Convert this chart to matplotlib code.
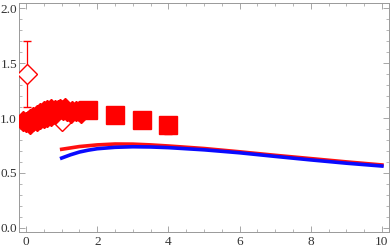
import numpy as np
import matplotlib
matplotlib.use('Agg')
import matplotlib.pyplot as plt
from matplotlib.ticker import MultipleLocator

plt.rcParams['font.family'] = ['Liberation Serif', 'DejaVu Serif']

# filled diamonds (dense cluster)
dia_x = [-0.08, 0.0, 0.05, 0.1, 0.12, 0.2, 0.2, 0.3, 0.3, 0.4, 0.4, 0.5, 0.5,
         0.6, 0.6, 0.7, 0.7, 0.8, 0.8, 0.9, 0.95, 1.05, 1.1, 1.15, 1.25, 1.3,
         1.4, 1.5, 1.55]
dia_y = [0.97, 0.96, 0.97, 0.95, 0.99, 0.97, 1.01, 0.97, 1.03, 0.99, 1.05, 1.0, 1.06,
         1.01, 1.07, 1.02, 1.08, 1.04, 1.07, 1.07, 1.08, 1.07, 1.09, 1.06, 1.05, 1.06,
         1.06, 1.06, 1.05]

# large squares with error bars
sq_x = [1.75, 2.5, 3.25, 4.0]
sq_y = [1.07, 1.03, 0.98, 0.94]
sq_lo = [0.04, 0.05, 0.06, 0.085]
sq_hi = [0.04, 0.05, 0.06, 0.06]

# open diamonds
od_x = [0.03, 1.0]
od_y = [1.40, 0.97]
od_lo = [0.30, 0.03]
od_hi = [0.30, 0.03]

# curves
red_x = [1.0, 1.5, 2.0, 2.5, 3.0, 3.5, 4.0, 5.0, 6.0, 7.0, 8.0, 9.0, 10.0]
red_y = [0.715, 0.74, 0.755, 0.763, 0.762, 0.755, 0.745, 0.722, 0.692, 0.66, 0.63, 0.60, 0.572]
blue_x = [1.0, 1.25, 1.5, 1.75, 2.0, 2.5, 3.0, 3.5, 4.0, 5.0, 6.0, 7.0, 8.0, 9.0, 10.0]
blue_y = [0.635, 0.665, 0.69, 0.707, 0.72, 0.733, 0.738, 0.736, 0.73, 0.71, 0.683, 0.65, 0.618, 0.588, 0.562]

fig = plt.figure(figsize=(3.9, 2.49), dpi=100)
ax = fig.add_axes([19 / 390, 17 / 249, 370 / 390, 229 / 249])

ax.plot(red_x, red_y, color='#ff1010', lw=2.6, zorder=2)
ax.plot(blue_x, blue_y, color='#0a0aff', lw=2.6, zorder=3)

ax.errorbar(od_x, od_y, yerr=[od_lo, od_hi], fmt='D', ms=10.5, mfc='white',
            mec='red', mew=1.0, ecolor='red', elinewidth=0.9, capsize=3, zorder=4)
ax.errorbar(sq_x, sq_y, yerr=[sq_lo, sq_hi], fmt='s', ms=12.5, color='red',
            ecolor='red', elinewidth=0.9, capsize=3, zorder=5)
ax.plot(dia_x, dia_y, 'D', ms=10.5, color='red', mec='red', zorder=6)

ax.set_xlim(-0.2, 10.2)
ax.set_ylim(-0.04, 2.05)
ax.xaxis.set_major_locator(MultipleLocator(2))
ax.xaxis.set_minor_locator(MultipleLocator(0.5))
ax.yaxis.set_major_locator(MultipleLocator(0.5))
ax.yaxis.set_minor_locator(MultipleLocator(0.1))
ax.tick_params(which='both', direction='in', top=True, right=True,
               color='#999999', labelsize=9.5, labelcolor='#333333', pad=3)
ax.tick_params(axis='y', which='major', pad=1.5)
ax.tick_params(which='major', length=4, width=0.6)
ax.tick_params(which='minor', length=2.2, width=0.5)
ax.set_yticks([0.0, 0.5, 1.0, 1.5, 2.0])
ax.set_yticklabels(['0.0', '0.5', '1.0', '1.5', '2.0'])
for s in ax.spines.values():
    s.set_color('#999999')
    s.set_linewidth(0.7)

plt.savefig('out.png', dpi=100)
